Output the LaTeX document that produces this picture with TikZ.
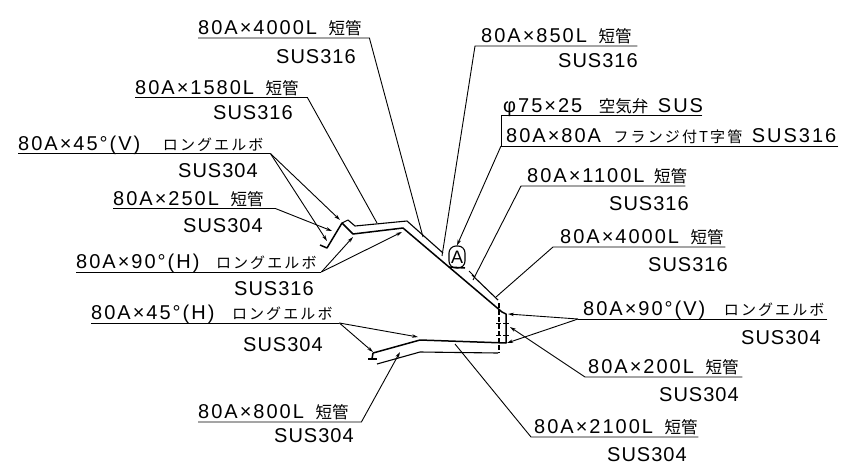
\documentclass[tikz,border=0pt]{standalone}
\usepackage{fontspec}
\setmainfont{Liberation Sans}
\newfontfamily\lbl[LetterSpace=10]{Liberation Sans}
\newfontfamily\susf[LetterSpace=5]{Liberation Sans}
\newfontfamily\jp{Noto Sans CJK JP}
\newfontfamily\jk[LetterSpace=14]{Noto Sans CJK JP}
\usetikzlibrary{arrows.meta}
\newcommand{\K}[1]{{\fontsize{16.5}{16.5}\selectfont\jp #1}}
\newcommand{\KK}[1]{{\fontsize{15}{15}\selectfont\jk #1}}
\tikzset{
  lab/.style={anchor=south west,inner xsep=0pt,inner ysep=3pt,text depth=0pt,align=flush left,font=\fontsize{20}{22}\selectfont\lbl},
  sus/.style={anchor=base west,inner sep=0pt,font=\fontsize{20}{22}\selectfont\susf},
  lead/.style={draw=black,line width=0.9pt,line join=miter},
  tip/.style={lead,-{Stealth[length=6pt,width=3.5pt]}},
  pipe/.style={draw=black,line width=1.5pt,line join=round},
  pipethin/.style={draw=black,line width=1.1pt,line join=round},
  pipedash/.style={draw=black,line width=1.1pt,dash pattern=on 5pt off 2pt},
  ticker/.style={draw=black,line width=0.8pt},
  valvebox/.style={draw=black,fill=white,line width=1.1pt,rounded corners=7pt,inner sep=0pt,minimum width=16pt,minimum height=22pt,font=\fontsize{18}{18}\selectfont}
}
\begin{document}
\begin{tikzpicture}[x=1pt,y=-1pt]
\useasboundingbox (0,0) rectangle (859,472);
% pipe: lower / outer heavy line
\draw[pipe] (320,245) -- (327,248) -- (342,223) -- (353,234) -- (403,228) -- (502,312) -- (506,314) -- (506,343) -- (420,340) -- (373,353);
\draw[pipe] (373,353) -- (372,359);
\draw[pipe] (368,359) -- (377,359);
% pipe: second line
\draw[pipethin] (342,223) -- (348,220) -- (355,226) -- (407,221) -- (443,253);
\draw[pipethin] (472,275) -- (498,300);
\draw[pipedash] (499,303) -- (499,353);
\draw[pipethin] (498,353) -- (420,352) -- (377,364);
% small ticks
\draw[ticker] (503,323) -- (509,323);
\draw[ticker] (503,335) -- (509,335);
\draw[ticker] (496,323) -- (501,323);
\draw[ticker] (496,335) -- (501,335);
\draw[ticker] (469,271) -- (475,277);
% air valve mark
\node[valvebox] (valve) at (457,257) {A};
\draw[pipe] (449,267) -- (465,268);
% target points
\coordinate (t1) at (423,237);
\coordinate (t2) at (377,223);
\coordinate (t3a) at (340,220);
\coordinate (t3b) at (327,241);
\coordinate (t4) at (332,231);
\coordinate (t5a) at (353,237);
\coordinate (t5b) at (402,232);
\coordinate (t6a) at (418,337);
\coordinate (t6b) at (373,352);
\coordinate (t7) at (400,352);
\coordinate (t8) at (455,344);
\coordinate (t9) at (510,327);
\coordinate (t10a) at (508,314);
\coordinate (t10b) at (507,343);
\coordinate (t11) at (496,297);
\coordinate (t12) at (473,280);
\coordinate (t14) at (442,256);
% labels
\node[lab,text width=171pt] (l1) at (198,38) {\mbox{80A×4000L\hspace{4pt} \K{短管}}};
\node[sus] (s1) at (276,63) {SUS316};
\node[lab,text width=172pt] (l2) at (135,97.5) {\mbox{80A×1580L\hspace{4pt} \K{短管}}};
\node[sus] (s2) at (213,119) {SUS316};
\node[lab,text width=252pt] (l3) at (18,153.5) {\mbox{80A×45°(V)\hspace{15pt} \KK{ロングエルボ}}};
\node[sus] (s3) at (178,177) {SUS304};
\node[lab,text width=162pt] (l4) at (113,208.5) {\mbox{80A×250L\hspace{4pt} \K{短管}}};
\node[sus] (s4) at (183,232) {SUS304};
\node[lab,text width=245pt] (l5) at (76,272) {\mbox{80A×90°(H)\hspace{9pt} \KK{ロングエルボ}}};
\node[sus] (s5) at (234,295) {SUS316};
\node[lab,text width=248pt] (l6) at (91,323) {\mbox{80A×45°(H)\hspace{10pt} \KK{ロングエルボ}}};
\node[sus] (s6) at (243,351) {SUS304};
\node[lab,text width=163pt] (l7) at (198,422) {\mbox{80A×800L\hspace{4pt} \K{短管}}};
\node[sus] (s7) at (274,442) {SUS304};
\node[lab,text width=167pt] (l8) at (531,437) {\mbox{\hspace*{3pt}80A×2100L\hspace{4pt} \K{短管}}};
\node[sus] (s8) at (607,461) {SUS304};
\node[lab,text width=157pt] (l9) at (585,377) {\mbox{\hspace*{3pt}80A×200L\hspace{4pt} \K{短管}}};
\node[sus] (s9) at (659,401) {SUS304};
\node[lab,text width=249pt] (l10) at (578,319) {\mbox{\hspace*{5pt}80A×90°(V)\hspace{11pt} \KK{ロングエルボ}}};
\node[sus] (s10) at (741,344) {SUS304};
\node[lab,text width=172pt] (l11) at (553,247) {\mbox{\hspace*{7pt}80A×4000L\hspace{4pt} \K{短管}}};
\node[sus] (s11) at (648,271) {SUS316};
\node[lab,text width=164pt] (l12) at (521,186) {\mbox{\hspace*{6pt}80A×1100L\hspace{2pt} \K{短管}}};
\node[sus] (s12) at (609,210) {SUS316};
\node[lab,text width=201pt] (l13a) at (501,115.5) {\mbox{\hspace*{2pt}φ75×25\hspace{9pt} \K{空気弁}\hspace{2pt} SUS}};
\node[lab,text width=337pt] (l13b) at (501,146) {\mbox{\hspace*{5pt}80A×80A\hspace{5pt} \KK{フランジ付T字管}\hspace{2pt} SUS316}};
\node[lab,text width=162pt] (l14) at (475,46) {\mbox{\hspace*{6pt}80A×850L\hspace{4pt} \K{短管}}};
\node[sus] (s14) at (558,67) {SUS316};
% leaders
\draw[lead] (l1.south west) -- (l1.south east) -- (t1);
\draw[lead] (l2.south west) -- (l2.south east) -- (t2);
\draw[lead] (l3.south west) -- (l3.south east);
\draw[tip] (l3.south east) -- (t3a);
\draw[tip] (l3.south east) -- (t3b);
\draw[tip] (l4.south west) -- (l4.south east) -- (t4);
\draw[lead] (l5.south west) -- (l5.south east);
\draw[tip] (l5.south east) -- (t5a);
\draw[tip] (l5.south east) -- (t5b);
\draw[lead] (l6.south west) -- (l6.south east);
\draw[tip] (l6.south east) -- (t6a);
\draw[tip] (l6.south east) -- (t6b);
\draw[tip] (l7.south west) -- (l7.south east) -- (t7);
\draw[lead] (l8.south east) -- (l8.south west) -- (t8);
\draw[tip] (l9.south east) -- (l9.south west) -- (t9);
\draw[lead] (l10.south east) -- (l10.south west);
\draw[tip] (l10.south west) -- (t10a);
\draw[tip] (l10.south west) -- (t10b);
\draw[lead] (l11.south east) -- (l11.south west) -- (t11);
\draw[lead] (l12.south east) -- (l12.south west) -- (t12);
\draw[lead] (l13a.south east) -- (l13a.south west) -- (l13b.south west);
\draw[lead] (l13b.south east) -- (l13b.south west);
\draw[tip] (l13b.south west) -- (valve.north);
\draw[lead] (l14.south east) -- (l14.south west) -- (t14);
\end{tikzpicture}
\end{document}
